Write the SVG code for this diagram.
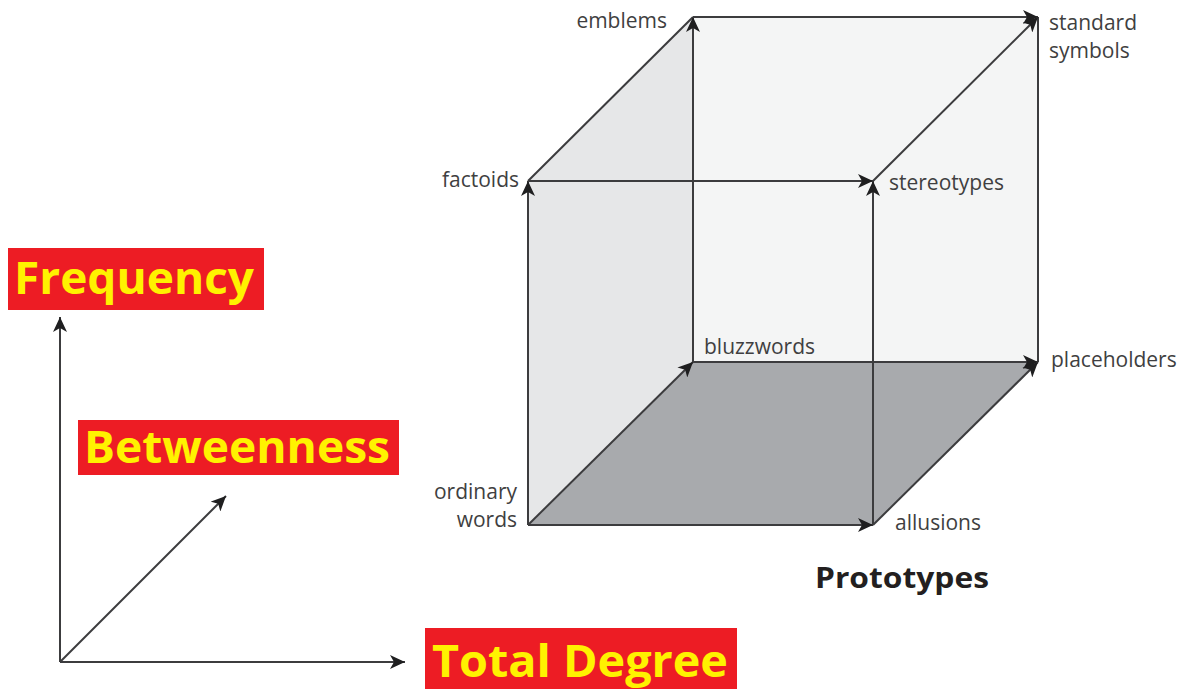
<svg xmlns="http://www.w3.org/2000/svg" width="1193" height="689" viewBox="0 0 1193 689">
<style>
.edge{stroke:#3c3c3e;stroke-width:2;fill:none}
.lbl{font-family:"Open Sans","Noto Sans",sans-serif;font-size:21px;fill:#3f3f41}
.ax{font-family:"Open Sans","Noto Sans",sans-serif;font-weight:bold;font-size:45px;fill:#fff200}
.axbox{fill:#ed1c24}
</style>
<defs>
<marker id="ah" markerWidth="16" markerHeight="14" refX="15" refY="7" orient="auto" markerUnits="userSpaceOnUse">
<path d="M0,0 L15,7 L0,14 L4,7 z" fill="#1f1f20"/>
</marker>
</defs>
<rect width="1193" height="689" fill="#ffffff"/>
<g id="faces">
<polygon points="693,17 1038,17 1038,362 693,362" fill="#f4f5f5"/>
<polygon points="528,525 528,181 693,17 693,362" fill="#e6e7e8"/>
<polygon points="528,525 693,362 1038,362 873,525" fill="#a8aaad"/>
</g>
<g id="connectors">
<line class="edge" x1="528" y1="181" x2="693" y2="17"/>
<line class="edge" x1="1038" y1="362" x2="1038" y2="17"/>
<line class="edge" x1="528" y1="525" x2="528" y2="181" marker-end="url(#ah)"/>
<line class="edge" x1="528" y1="181" x2="873" y2="181" marker-end="url(#ah)"/>
<line class="edge" x1="873" y1="525" x2="873" y2="181" marker-end="url(#ah)"/>
<line class="edge" x1="693" y1="362" x2="693" y2="17" marker-end="url(#ah)"/>
<line class="edge" x1="693" y1="17" x2="1038" y2="17" marker-end="url(#ah)"/>
<line class="edge" x1="873" y1="181" x2="1038" y2="17" marker-end="url(#ah)"/>
<line class="edge" x1="528" y1="525" x2="873" y2="525" marker-end="url(#ah)"/>
<line class="edge" x1="528" y1="525" x2="693" y2="362" marker-end="url(#ah)"/>
<line class="edge" x1="693" y1="362" x2="1038" y2="362" marker-end="url(#ah)"/>
<line class="edge" x1="873" y1="525" x2="1038" y2="362" marker-end="url(#ah)"/>
<line class="edge" x1="60" y1="662" x2="60" y2="317" marker-end="url(#ah)"/>
<line class="edge" x1="60" y1="662" x2="405" y2="662" marker-end="url(#ah)"/>
<line class="edge" x1="60" y1="662" x2="226" y2="496" marker-end="url(#ah)"/>
</g>
<g id="n-emblems"><text class="lbl" x="667" y="28" text-anchor="end">emblems</text></g>
<g id="n-factoids"><text class="lbl" x="519" y="187" text-anchor="end">factoids</text></g>
<g id="n-stereotypes"><text class="lbl" x="889" y="190">stereotypes</text></g>
<g id="n-standard"><text class="lbl" x="1049" y="30">standard</text><text class="lbl" x="1049" y="58">symbols</text></g>
<g id="n-bluzzwords"><text class="lbl" x="704" y="354">bluzzwords</text></g>
<g id="n-placeholders"><text class="lbl" x="1051" y="367">placeholders</text></g>
<g id="n-ordinary"><text class="lbl" x="517" y="499" text-anchor="end">ordinary</text><text class="lbl" x="517" y="527" text-anchor="end">words</text></g>
<g id="n-allusions"><text class="lbl" x="895" y="530">allusions</text></g>
<g id="title"><text x="815" y="588" font-family="Open Sans, Noto Sans, sans-serif" font-weight="bold" font-size="29" fill="#231f20" textLength="174" lengthAdjust="spacingAndGlyphs">Prototypes</text></g>
<g id="ax-frequency"><rect class="axbox" x="8" y="248" width="256" height="62"/><text class="ax" x="14" y="294" textLength="240" lengthAdjust="spacingAndGlyphs">Frequency</text></g>
<g id="ax-betweenness"><rect class="axbox" x="78" y="420" width="321" height="55"/><text class="ax" x="84" y="463" textLength="306" lengthAdjust="spacingAndGlyphs">Betweenness</text></g>
<g id="ax-totaldegree"><rect class="axbox" x="425" y="628" width="312" height="61"/><text class="ax" x="432" y="677" textLength="296" lengthAdjust="spacingAndGlyphs">Total Degree</text></g>
</svg>
